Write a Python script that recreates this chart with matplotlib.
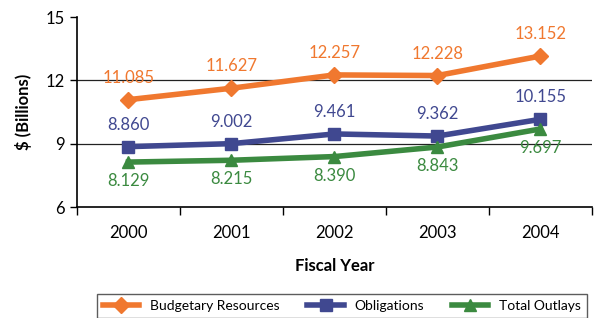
import matplotlib
matplotlib.use("Agg")
import matplotlib.pyplot as plt

# data
years = ["2000", "2001", "2002", "2003", "2004"]
budgetary = [11.085, 11.627, 12.257, 12.228, 13.152]
obligations = [8.860, 9.002, 9.461, 9.362, 10.155]
outlays = [8.129, 8.215, 8.390, 8.843, 9.697]

orange = "#F0782F"
blue = "#404890"
green = "#3B8A40"

plt.rcParams["font.family"] = ["Lato", "DejaVu Sans"]

fig = plt.figure(figsize=(5.94, 3.18), dpi=100)
ax = fig.add_axes([0.1296, 0.349, 0.867, 0.5975])

x = range(len(years))
ax.plot(x, budgetary, color=orange, lw=4, marker="D", ms=8, label="Budgetary Resources")
ax.plot(x, obligations, color=blue, lw=4, marker="s", ms=8, label="Obligations")
ax.plot(x, outlays, color=green, lw=4, marker="^", ms=9, label="Total Outlays")

for i in x:
    ax.annotate("%.3f" % budgetary[i], (i, budgetary[i]), xytext=(0, 10),
                textcoords="offset points", ha="center", va="bottom",
                color=orange, fontsize=12)
    ax.annotate("%.3f" % obligations[i], (i, obligations[i]), xytext=(0, 10),
                textcoords="offset points", ha="center", va="bottom",
                color=blue, fontsize=12)
    ax.annotate("%.3f" % outlays[i], (i, outlays[i]), xytext=(0, -8),
                textcoords="offset points", ha="center", va="top",
                color=green, fontsize=12)

ax.set_xlim(-0.5, 4.5)
ax.set_ylim(6, 15)
ax.set_yticks([6, 9, 12, 15])
ax.set_xticks(x)
ax.set_xticklabels(years)
ax.set_xticks([i - 0.5 for i in range(6)], minor=True)
ax.tick_params(axis="x", which="major", length=0, pad=13, labelsize=12)
ax.tick_params(axis="x", which="minor", length=6, direction="out", width=1)
ax.tick_params(axis="y", length=5, direction="out", labelsize=12, width=1)
for y in [9, 12]:
    ax.axhline(y, color="#222222", lw=0.9, zorder=0)

ax.spines["top"].set_visible(False)
ax.spines["right"].set_visible(False)
ax.spines["left"].set_linewidth(1.2)
ax.spines["bottom"].set_linewidth(1.2)

ax.set_xlabel("Fiscal Year", fontsize=12, fontweight="bold", labelpad=12)
ax.set_ylabel("$ (Billions)", fontsize=12, fontweight="bold", labelpad=10)

leg = fig.legend(loc="upper left", bbox_to_anchor=(97 / 594, 0.0, 490 / 594, 0.077),
                 mode="expand", ncol=3, fontsize=10, frameon=True, fancybox=False,
                 edgecolor="#333333", handlelength=2.6, borderpad=0.45,
                 borderaxespad=0, bbox_transform=fig.transFigure)
leg.get_frame().set_linewidth(1)

fig.savefig("out.png", dpi=100)
